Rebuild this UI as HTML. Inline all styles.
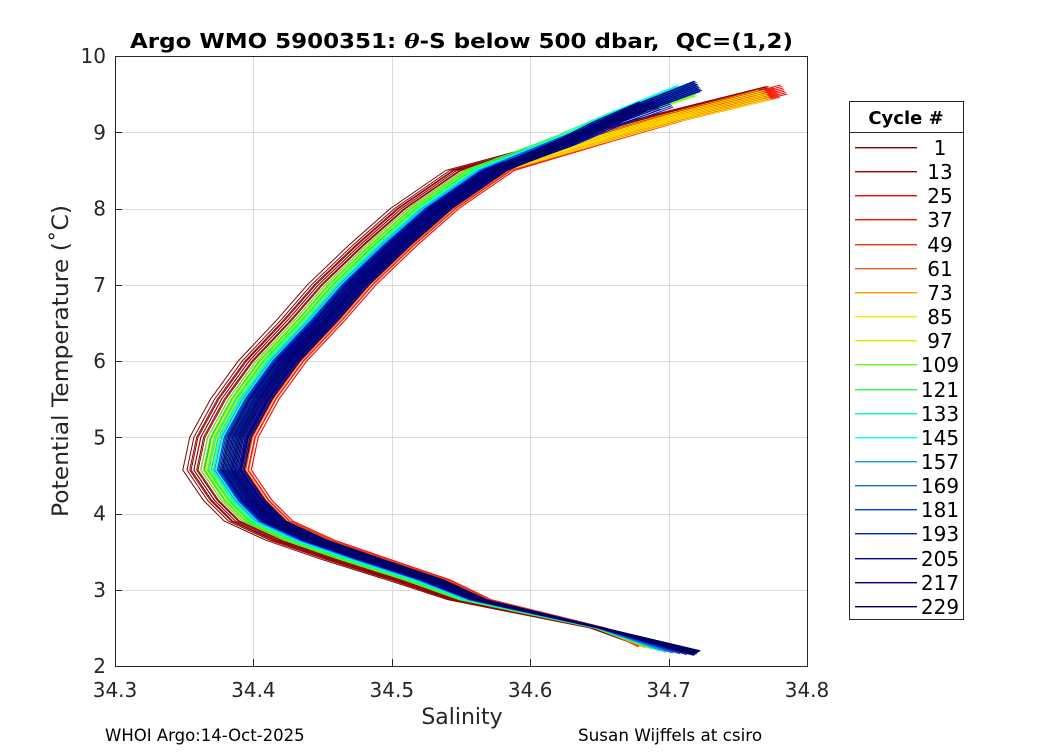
<!DOCTYPE html>
<html><head><meta charset="utf-8"><style>
body{margin:0;background:#fff;}
svg text{font-family:"DejaVu Sans","Liberation Sans",sans-serif;}
</style></head><body>
<svg id="chart" width="1050" height="750" viewBox="0 0 1050 750" xmlns="http://www.w3.org/2000/svg">
<rect width="1050" height="750" fill="#fff"/>
<g id="grid"></g>
<g id="lines"></g>
<rect x="115.5" y="56.5" width="692" height="610" fill="none" stroke="#262626" stroke-width="1"/>
<g id="ticks"></g>
<text x="130" y="48" font-size="20" font-weight="bold" fill="#000" textLength="663" lengthAdjust="spacingAndGlyphs" xml:space="preserve">Argo WMO 5900351: <tspan font-style="italic" font-family="DejaVu Serif, serif">θ</tspan>-S below 500 dbar,  QC=(1,2)</text>
<text x="462" y="724" text-anchor="middle" font-size="22" fill="#262626">Salinity</text>
<text transform="translate(68,361) rotate(-90)" text-anchor="middle" font-size="22" fill="#262626" textLength="312" lengthAdjust="spacingAndGlyphs">Potential Temperature (˚C)</text>
<text x="105" y="741" font-size="16.5" fill="#000">WHOI Argo:14-Oct-2025</text>
<text x="578" y="741" font-size="16.8" fill="#000">Susan Wijffels at csiro</text>
<g id="legend">
<rect x="849.5" y="101.5" width="114" height="518" fill="#fff" stroke="#262626"/>
<line x1="849.5" y1="132.5" x2="963.5" y2="132.5" stroke="#262626"/>
<text x="906" y="124" text-anchor="middle" font-size="18" font-weight="bold">Cycle #</text>
</g>
</svg>
<script>
const baseT=[2.2,2.5,2.87,3.13,3.4,3.65,3.9,4.17,4.57,5.0,5.5,6.0,6.54,7.0,7.52,8.0,8.5,8.96,9.3,9.66];
const baseS=[34.708,34.65,34.56,34.525,34.48,34.44,34.41,34.395,34.38,34.385,34.40,34.42,34.448,34.47,34.50,34.53,34.57,34.63,34.67,34.72];
const cycles=[1,13,25,37,49,61,73,85,97,109,121,133,145,157,169,181,193,205,217,229];
const colors=["#800000","#a00000","#ff0000","#ff1000","#f83010","#f06020","#ff9900","#ffe600","#c0ff00","#60ff10","#20ff50","#00ffa0","#00ffff","#10a0f0","#1070e0","#0040e0","#0020c0","#0000a0","#000080","#000060"];
const midOffset=[-0.025,-0.02,0.009,0.009,0.007,0.005,-0.01,0.003,-0.008,-0.012,-0.01,-0.006,-0.004,-0.002,0,0,0.001,0.002,0.003,0.004];
const topS=[34.78,34.78,34.78,34.775,34.775,34.77,34.77,34.77,34.72,34.72,34.71,34.71,34.71,34.72,34.72,34.72,34.70,34.69,34.68,34.72];
const topT=[9.6,9.6,9.62,9.58,9.58,9.55,9.55,9.55,9.6,9.6,9.6,9.6,9.62,9.65,9.65,9.67,9.45,9.42,9.4,9.67];
const botS=[34.68,34.68,34.68,34.68,34.68,34.685,34.685,34.69,34.69,34.69,34.695,34.695,34.70,34.70,34.705,34.71,34.715,34.72,34.72,34.72];
const botT=[2.27,2.27,2.26,2.26,2.25,2.25,2.24,2.24,2.23,2.22,2.22,2.2,2.2,2.18,2.17,2.16,2.15,2.14,2.14,2.14];
const xTicks=[34.3,34.4,34.5,34.6,34.7,34.8];
const yTicks=[2,3,4,5,6,7,8,9,10];
const spread=[-0.006,-0.003,0,0.002,0.004,0.007,0.0095];
const NS="http://www.w3.org/2000/svg";
const x=s=>115+(s-34.3)/0.5*692, y=t=>666-(t-2)/8*610;
function mk(tag,a,p){const e=document.createElementNS(NS,tag);for(const k in a)e.setAttribute(k,a[k]);p.appendChild(e);return e;}
const grid=document.getElementById('grid'),ticks=document.getElementById('ticks');
xTicks.forEach(v=>{
 const px=Math.round(x(v))+0.5;
 const g=mk('line',{x1:px,x2:px,y1:56,y2:666,stroke:'#dcdcdc'},grid);
 
 
 const tk=mk('line',{x1:px,x2:px,y1:666,y2:659,stroke:'#262626'},ticks);
 
 
 const t=mk('text',{x:x(v),y:697,'text-anchor':'middle','font-size':20,fill:'#262626'},ticks);
 t.textContent=v.toFixed(1);
 
 
});
yTicks.forEach(v=>{
 const py=Math.round(y(v))+0.5;
 const g=mk('line',{x1:115,x2:807,y1:py,y2:py,stroke:'#dcdcdc'},grid);
 
 
 const tk=mk('line',{x1:115,x2:122,y1:py,y2:py,stroke:'#262626'},ticks);
 
 
 const t=mk('text',{x:106,y:y(v)+7,'text-anchor':'end','font-size':20,fill:'#262626'},ticks);
 t.textContent=String(v);
 
 
});
const lines=document.getElementById('lines');
cycles.forEach((c,i)=>{
 spread.forEach((sp,j)=>{
  const pts=[];
  const n=baseT.length;
  const tTop=topT[i]-j*0.02;
  for(let k=0;k<n;k++){
   let T=baseT[k],S=baseS[k];
   if(T>8.5)T=8.5+(baseT[k]-8.5)*(tTop-8.5)/(9.66-8.5);
   const wb=T<3.2?Math.max(0,(T-2.3)/0.9):1;
   const wt=T>8.5?Math.max(0.3,1-(T-8.5)/1.2):1;
   S+=(midOffset[i]+sp)*wb*wt;
   if(baseT[k]>8.5){const f=(baseT[k]-8.5)/(9.66-8.5);S+=(topS[i]-baseS[n-1])*Math.pow(f,1.3);}
   if(k==0){S=botS[i]+sp*0.3;T=botT[i]+j*0.01;}
   pts.push(x(S).toFixed(1)+','+y(T).toFixed(1));
  }
  const p=mk('polyline',{points:pts.join(' '),fill:'none',stroke:colors[i],'stroke-width':1},lines);
  
  
 });
});
const lg=document.getElementById('legend');
cycles.forEach((c,i)=>{
 const yy=Math.round(147+i*24.15);
 const l=mk('rect',{x:855,y:yy,width:62,height:1.4,fill:colors[i]},lg);
 
 
 const t=mk('text',{x:940,y:yy+8,'text-anchor':'middle','font-size':20,fill:'#000'},lg);
 t.textContent=String(c);
 
 
});
</script>
</body></html>
